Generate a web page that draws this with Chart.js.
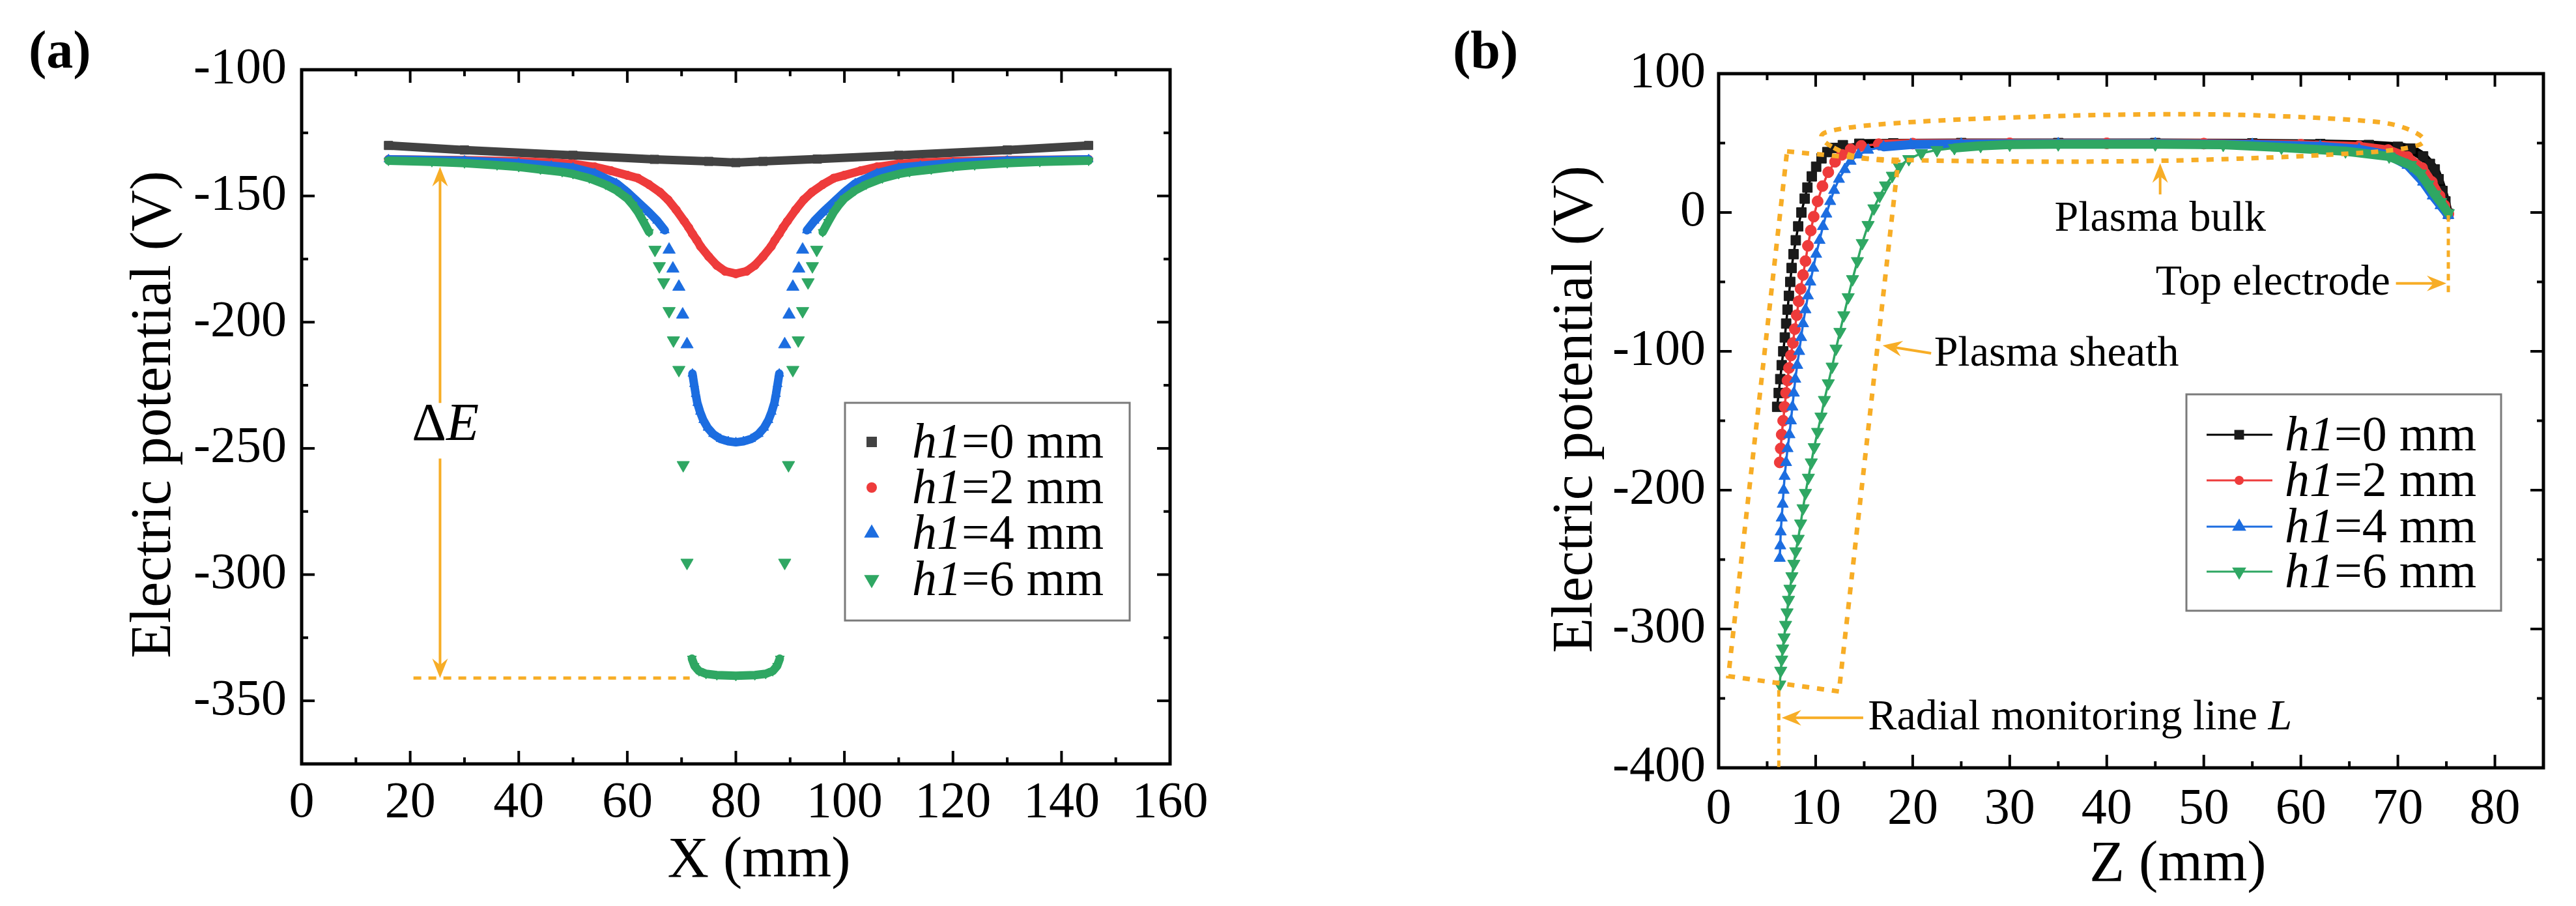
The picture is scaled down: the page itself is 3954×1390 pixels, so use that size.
<!DOCTYPE html>
<html>
<head>
<meta charset="utf-8">
<script src="https://cdn.jsdelivr.net/npm/chart.js@4.4.1/dist/chart.umd.min.js"></script>
<style>
  html, body { margin: 0; padding: 0; background: #fff; }
  #wrap { position: relative; width: 3954px; height: 1390px; }
  canvas { position: absolute; top: 0; }
</style>
</head>
<body>
<div id="wrap">
  <canvas id="chartA" width="1977" height="1390" style="left:0"></canvas>
  <canvas id="chartB" width="1977" height="1390" style="left:1977px"></canvas>
</div>
<script>
// h1 values shared by both panels
const h1Values = [0, 2, 4, 6];

// (a) electric potential along X
const aTicksX = [0, 20, 40, 60, 80, 100, 120, 140, 160];
const aTicksY = [-350, -300, -250, -200, -150, -100];

const aX0 = [16, 30, 50, 65, 75, 80, 85, 95, 110, 130, 145];
const aV0 = [-130, -131.8, -133.9, -135.5, -136.3, -136.8, -136.3, -135.4, -133.9, -131.8, -130];

const aX2 = [16, 30, 40, 46, 50, 54, 57, 60, 62, 64, 66, 67.5, 69, 70.5, 71.3, 72, 72.8, 73.5, 75, 76.5, 78, 80,
  82, 83.5, 85, 86.5, 87.2, 88, 88.7, 89.5, 91, 92.5, 94, 96, 98, 100, 103, 106, 110, 114, 120, 130, 145];
const aV2 = [-135.5, -135.8, -136.3, -136.8, -137.3, -138.5, -140, -141.8, -143, -145.5, -148.5, -151.5, -155.5, -160, -162.5, -165, -167.5, -170, -174, -177.5, -179.8, -180.8,
  -179.8, -177.5, -174, -170, -167.5, -165, -162.5, -160, -155.5, -151.5, -148.5, -145.5, -143, -141.8, -140, -138.5, -137.3, -136.8, -136.3, -135.8, -135.5];

const aX4 = [16, 30, 40, 46, 50, 54, 58, 60, 62, 64, 65.5, 66.9, 67.7, 68.4, 69.5, 70.2, 71, 72, 72.3, 72.6, 72.9, 73.4, 74, 74.8, 75.8, 77.2, 78.6, 80,
  81.4, 82.8, 84.2, 85.2, 86, 86.6, 87.1, 87.4, 87.7, 88, 89, 89.8, 90.5, 91.6, 92.3, 93.1, 94.5, 96, 98, 100, 102, 106, 110, 114, 120, 130, 145];
const aV4 = [-135.5, -136, -137, -138, -138.8, -141, -145, -148.5, -152.5, -156.5, -159.8, -163.6, -171.3, -178.8, -186, -197, -208.8, -220.4, -224.5, -228.5, -232, -235.5, -238.8, -241.8, -244.3, -246.3, -247.2, -247.6,
  -247.2, -246.3, -244.3, -241.8, -238.8, -235.5, -232, -228.5, -224.5, -220.4, -208.8, -197, -186, -178.8, -171.3, -163.6, -159.8, -156.5, -152.5, -148.5, -145, -141, -138.8, -138, -137, -136, -135.5];

const aX6 = [16, 24, 30, 36, 40, 44, 48, 50, 53, 56, 58, 60, 61, 62, 63, 64, 65.1, 65.9, 66.7, 67.7, 68.5, 69.5, 70.3, 71, 71.9, 72.4, 73.2, 74.5, 76.5, 80,
  83.5, 85.5, 86.8, 87.6, 88.1, 89, 89.7, 90.5, 91.5, 92.3, 93.3, 94.1, 94.9, 96, 97, 98, 99, 100, 102, 104, 107, 110, 112, 116, 120, 124, 130, 136, 145];
const aV6 = [-136, -136.5, -137, -137.8, -138.5, -139.5, -140.5, -141.3, -143, -145.5, -147.8, -151, -153.5, -156.5, -160.3, -164.3, -171.3, -177.8, -184.2, -195.6, -207.2, -218.9, -256.6, -295.3, -333.3, -336.2, -338.2, -339.3, -339.8, -340.1,
  -339.8, -339.3, -338.2, -336.2, -333.3, -295.3, -256.6, -218.9, -207.2, -195.6, -184.2, -177.8, -171.3, -164.3, -160.3, -156.5, -153.5, -151, -147.8, -145.5, -143, -141.3, -140.5, -139.5, -138.5, -137.8, -137, -136.5, -136];

// (b) electric potential along Z
const bTicksX = [0, 10, 20, 30, 40, 50, 60, 70, 80];
const bTicksY = [-400, -300, -200, -100, 0, 100];

const bZ0 = [6.03, 6.19, 6.35, 6.5, 6.66, 6.82, 6.96, 7.1, 7.24, 7.38, 7.52, 7.72, 7.95, 8.2, 8.53, 8.87, 9.15, 9.6, 10.05, 10.6,
  11.2, 11.8, 12.8, 14.5, 18, 25, 35, 45, 55, 62, 67, 70, 71.3, 72.6, 73.3, 73.8, 74.2, 74.6, 74.9, 75.2];
const bV0 = [-140, -130, -120, -110, -100, -90, -80, -70, -60, -50, -40, -30, -20, -10, 0, 10, 18, 26, 33, 39,
  43.5, 46.5, 48.5, 49.5, 49.8, 50, 50, 50, 49.8, 49.3, 48.6, 47.3, 46, 40.4, 35, 31, 24, 15.5, 8, -1];

const bZ2 = [6.3, 6.4, 6.5, 6.65, 6.8, 6.95, 7.1, 7.25, 7.45, 7.65, 7.85, 8.05, 8.25, 8.45, 8.7, 8.95, 9.2, 9.5, 9.8, 10.2,
  10.7, 11.3, 12, 12.7, 13.6, 14.7, 16.5, 20, 30, 40, 50, 60, 66, 69, 71, 72.5, 73.5, 74.3, 74.8, 75.2];
const bV2 = [-180, -170, -160, -150, -140, -130, -121, -112, -103, -94, -84, -74, -64, -55, -45, -35, -24, -13, -3, 8,
  19, 29, 36.5, 41.5, 45.5, 48, 49.2, 49.6, 49.8, 49.8, 49.6, 48.8, 47.5, 45, 40, 32, 22, 12, 5, -1];

const bZ4 = [6.3, 6.35, 6.4, 6.5, 6.6, 6.7, 6.8, 6.95, 7.1, 7.3, 7.45, 7.6, 7.75, 7.9, 8.1, 8.3, 8.5, 8.7, 8.95, 9.2,
  9.45, 9.75, 10.05, 10.4, 10.75, 11.1, 11.5, 11.9, 12.4, 13, 13.6, 14.4, 15.4, 17, 19.8, 25, 35, 45, 55, 62,
  66, 69, 71, 72.6, 73.6, 74.4, 75.2];
const bV4 = [-249, -240, -230, -220, -210, -200, -190, -180, -170, -160, -150, -140, -130, -120, -110, -100, -90, -80, -70, -60,
  -50, -40, -30, -20, -10, -1, 8, 16, 24, 31, 37, 41.5, 45, 47.3, 48.9, 49.3, 49.5, 49.5, 49, 47.6,
  45.5, 41.5, 34, 22, 12, 5, -2];

const bZ6 = [6.3, 6.4, 6.5, 6.6, 6.75, 6.9, 7.05, 7.2, 7.35, 7.55, 7.75, 7.95, 8.2, 8.45, 8.7, 8.95, 9.25, 9.55, 9.85, 10.2,
  10.55, 10.9, 11.3, 11.7, 12.1, 12.5, 12.9, 13.35, 13.8, 14.3, 14.8, 15.4, 16, 16.6, 17.2, 17.9, 18.6, 19.6, 20.9, 22.5,
  24.3, 27, 30, 35, 45, 52, 58, 64.6, 69.1, 71.3, 72.3, 73.1, 73.8, 74.4, 75.2];
const bV6 = [-340, -330, -322, -314, -306, -297, -288, -279, -271, -262, -253, -244, -235, -224, -213, -202, -191, -180, -169, -158,
  -147, -135, -123, -111, -98, -86, -74, -61, -48, -35, -22, -9, 3, 12, 19.5, 26.5, 33, 38.5, 42.7, 45,
  46.5, 48, 48.9, 49.2, 49.2, 48.8, 46.8, 44.1, 40.4, 34.2, 28, 20.2, 13, 7.5, -0.5];

const RED = '#EE3B3B';
const BLUE = '#1C6DE0';
const GREEN = '#2FA763';
const ORANGE = '#F7AD26';
const FAMILY = '"Liberation Serif", "Times New Roman", serif';

const pts = (xs, ys) => xs.map((x, i) => ({ x, y: ys[i] }));

function drawRuns(ctx, runs, x, y, size, align = 'left') {
  const fonts = runs.map(r => `${r.i ? 'italic ' : ''}${r.b ? 'bold ' : ''}${size}px ${FAMILY}`);
  let total = 0;
  const widths = runs.map((r, k) => {
    ctx.font = fonts[k];
    const w = ctx.measureText(r.t).width;
    total += w;
    return w;
  });
  let cx = align === 'center' ? x - total / 2 : align === 'right' ? x - total : x;
  ctx.textAlign = 'left';
  ctx.textBaseline = 'middle';
  runs.forEach((r, k) => { ctx.font = fonts[k]; ctx.fillText(r.t, cx, y); cx += widths[k]; });
}

function drawRotated(ctx, text, x, y, size) {
  ctx.save();
  ctx.translate(x, y);
  ctx.rotate(-Math.PI / 2);
  drawRuns(ctx, [{ t: text }], 0, 0, size, 'center');
  ctx.restore();
}

function seg(ctx, [x0, y0], [x1, y1]) {
  ctx.beginPath(); ctx.moveTo(x0, y0); ctx.lineTo(x1, y1); ctx.stroke();
}

function arrow(ctx, x0, y0, x1, y1) {
  const a = Math.atan2(y1 - y0, x1 - x0), c = Math.cos(a), s = Math.sin(a);
  const L = 30, W = 12, N = 20;
  ctx.beginPath(); ctx.moveTo(x0, y0); ctx.lineTo(x1 - c * N, y1 - s * N); ctx.stroke();
  ctx.beginPath();
  ctx.moveTo(x1, y1);
  ctx.lineTo(x1 - c * L - s * W, y1 - s * L + c * W);
  ctx.lineTo(x1 - c * N, y1 - s * N);
  ctx.lineTo(x1 - c * L + s * W, y1 - s * L - c * W);
  ctx.closePath();
  ctx.fill();
}

function smoothClosed(ctx, p) {
  const n = p.length, mid = (a, b) => [(a[0] + b[0]) / 2, (a[1] + b[1]) / 2];
  const m0 = mid(p[n - 1], p[0]);
  ctx.moveTo(m0[0], m0[1]);
  for (let i = 0; i < n; i++) {
    const m = mid(p[i], p[(i + 1) % n]);
    ctx.quadraticCurveTo(p[i][0], p[i][1], m[0], m[1]);
  }
  ctx.closePath();
}

function drawMarker(ctx, ds, x, y, r) {
  ctx.beginPath();
  if (ds.pointStyle === 'rect') {
    const h = r * Math.SQRT1_2;
    ctx.rect(x - h, y - h, 2 * h, 2 * h);
  } else if (ds.pointStyle === 'circle') {
    ctx.arc(x, y, r, 0, Math.PI * 2);
  } else {
    const d = ds.rotation === 180 ? -1 : 1;
    ctx.moveTo(x, y - d * r);
    ctx.lineTo(x + r * 0.866, y + d * r * 0.5);
    ctx.lineTo(x - r * 0.866, y + d * r * 0.5);
    ctx.closePath();
  }
  ctx.fill();
}

function drawLegend(chart, box, rows, markerX, textX, radii, lineSpan) {
  const ctx = chart.ctx;
  ctx.save();
  ctx.strokeStyle = '#7a7a7a';
  ctx.lineWidth = 3;
  ctx.strokeRect(box[0], box[1], box[2] - box[0], box[3] - box[1]);
  chart.data.datasets.forEach((ds, i) => {
    const y = rows[i];
    if (lineSpan) {
      ctx.strokeStyle = ds.borderColor;
      ctx.lineWidth = 3;
      seg(ctx, [lineSpan[0], y], [lineSpan[1], y]);
    }
    ctx.fillStyle = ds.pointBackgroundColor;
    drawMarker(ctx, ds, markerX, y, radii[i]);
    ctx.fillStyle = '#000';
    drawRuns(ctx, [{ t: 'h1', i: true }, { t: `=${h1Values[i]} mm` }], textX, y + 4, 76);
  });
  ctx.restore();
}

// inward ticks on all four sides plus the frame
const frameTicks = {
  id: 'frameTicks',
  afterDraw(chart) {
    const { ctx, chartArea: a, scales: { x, y } } = chart;
    const majors = s => s.ticks.map(t => t.value);
    const minors = s => { const v = majors(s); return v.slice(1).map((t, i) => (t + v[i]) / 2); };
    ctx.save();
    ctx.strokeStyle = '#000';
    ctx.lineWidth = 4;
    [[majors(x), 20], [minors(x), 10]].forEach(([vals, len]) => vals.forEach(v => {
      const p = x.getPixelForValue(v);
      seg(ctx, [p, a.bottom], [p, a.bottom - len]);
      seg(ctx, [p, a.top], [p, a.top + len]);
    }));
    [[majors(y), 20], [minors(y), 10]].forEach(([vals, len]) => vals.forEach(v => {
      const p = y.getPixelForValue(v);
      seg(ctx, [a.left, p], [a.left + len, p]);
      seg(ctx, [a.right, p], [a.right - len, p]);
    }));
    ctx.lineWidth = 5;
    ctx.strokeRect(a.left, a.top, a.right - a.left, a.bottom - a.top);
    ctx.restore();
  }
};

// panel (a): dense node markers read as a band, gaps where nodes spread apart
const GAP_PX = 22;
const gapColor = c => Math.abs(c.p1.y - c.p0.y) > GAP_PX ? 'rgba(0,0,0,0)' : undefined;
const nodeRadius = (band, lone) => c => {
  const d = c.dataset.data, i = c.dataIndex, ys = c.chart.scales.y;
  const near = j => j >= 0 && j < d.length &&
    Math.abs(ys.getPixelForValue(d[j].y) - ys.getPixelForValue(d[i].y)) <= GAP_PX;
  return near(i - 1) || near(i + 1) ? band : lone;
};

function datasetA(label, data, color, style, band, lone, order, rotation = 0) {
  return {
    label, data, order, rotation,
    showLine: true,
    borderColor: color,
    borderWidth: 13,
    borderCapStyle: 'round',
    borderJoinStyle: 'round',
    pointStyle: style,
    pointBackgroundColor: color,
    pointBorderColor: color,
    pointBorderWidth: 1,
    pointRadius: nodeRadius(band, lone),
    segment: { borderColor: gapColor },
  };
}

const tickFont = { family: FAMILY, size: 78 };

const decorA = {
  id: 'decorA',
  afterDraw(chart) {
    const { ctx } = chart;
    const P = (x, v) => [chart.scales.x.getPixelForValue(x), chart.scales.y.getPixelForValue(v)];
    ctx.save();
    ctx.strokeStyle = ORANGE;
    ctx.fillStyle = ORANGE;
    ctx.lineWidth = 5;
    ctx.setLineDash([12, 11]);
    seg(ctx, P(20.6, -341), P(71.5, -341));
    ctx.setLineDash([]);
    ctx.lineWidth = 4;
    arrow(ctx, ...P(25.5, -232), ...P(25.5, -138.5));
    arrow(ctx, ...P(25.5, -254), ...P(25.5, -341));
    ctx.fillStyle = '#000';
    drawRuns(ctx, [{ t: 'Δ' }, { t: 'E', i: true }], ...P(26.5, -241), 82, 'center');
    drawRotated(ctx, 'Electric potential (V)', 238, 636, 88);
    drawRuns(ctx, [{ t: 'X (mm)' }], 1165, 1322, 88, 'center');
    drawRuns(ctx, [{ t: '(a)', b: true }], 44, 83, 82);
    ctx.restore();
    drawLegend(chart, [1297, 618, 1734, 952], [678, 748, 818, 889], 1338, 1400, [11.3, 8, 13.5, 13.5]);
  }
};

new Chart(document.getElementById('chartA'), {
  type: 'scatter',
  data: {
    datasets: [
      datasetA('h1=0 mm', pts(aX0, aV0), '#424242', 'rect', 9.2, 9.2, 3),
      datasetA('h1=2 mm', pts(aX2, aV2), RED, 'circle', 6.5, 8, 2),
      datasetA('h1=4 mm', pts(aX4, aV4), BLUE, 'triangle', 8, 11, 1),
      datasetA('h1=6 mm', pts(aX6, aV6), GREEN, 'triangle', 8, 11, 0, 180),
    ],
  },
  options: {
    responsive: false,
    devicePixelRatio: 1,
    animation: false,
    events: [],
    layout: { padding: { left: 0, top: 107, right: 181, bottom: 0 } },
    plugins: { legend: { display: false }, tooltip: { enabled: false } },
    scales: {
      x: {
        type: 'linear', min: 0, max: 160,
        afterBuildTicks: s => { s.ticks = aTicksX.map(v => ({ value: v })); },
        afterFit: s => { s.height = 218; },
        grid: { display: false, drawTicks: false },
        border: { display: false },
        ticks: { font: tickFont, color: '#000', padding: 14, maxRotation: 0, autoSkip: false, callback: v => String(v) },
      },
      y: {
        type: 'linear', min: -375, max: -100,
        afterBuildTicks: s => { s.ticks = aTicksY.map(v => ({ value: v })); },
        afterFit: s => { s.width = 463; },
        grid: { display: false, drawTicks: false },
        border: { display: false },
        ticks: { font: tickFont, color: '#000', padding: 23, autoSkip: false, callback: v => String(v) },
      },
    },
  },
  plugins: [frameTicks, decorA],
});

// panel (b): thin connecting line, dense plateau nodes drawn as a band
const BAND_PX = 30;
const BAND_FROM_Z = 66;
const bandWidth = c => {
  const d = c.chart.data.datasets[c.datasetIndex].data;
  const long = Math.hypot(c.p1.x - c.p0.x, c.p1.y - c.p0.y) > BAND_PX;
  return long || d[c.p0DataIndex].x >= BAND_FROM_Z ? 14 : 3.5;
};

function datasetB(label, data, line, fill, style, radius, order, rotation = 0) {
  return {
    label, data, order, rotation,
    showLine: true,
    borderColor: line,
    borderWidth: 3.5,
    borderCapStyle: 'round',
    borderJoinStyle: 'round',
    pointStyle: style,
    pointBackgroundColor: fill,
    pointBorderColor: fill,
    pointBorderWidth: 1,
    pointRadius: radius,
    segment: { borderWidth: bandWidth },
  };
}

const decorB = {
  id: 'decorB',
  afterDraw(chart) {
    const { ctx } = chart;
    const P = (z, v) => [chart.scales.x.getPixelForValue(z), chart.scales.y.getPixelForValue(v)];
    ctx.save();
    ctx.strokeStyle = ORANGE;
    ctx.fillStyle = ORANGE;
    ctx.lineWidth = 7;
    ctx.lineJoin = 'round';
    ctx.setLineDash([11, 12]);
    const bulk = [[9.8, 55], [12.5, 61], [20, 65.5], [30, 68.5], [40, 70.5], [50, 71], [58, 69.5], [65, 67], [70, 64],
      [73.5, 51.5], [70.5, 45], [63, 41.5], [55, 39], [45, 37], [35, 36.5], [25, 37], [17, 38], [13.5, 40]].map(p => P(...p));
    ctx.beginPath(); smoothClosed(ctx, bulk); ctx.stroke();
    const sheath = [[7.05, 44], [18.5, 36.5], [12.4, -345], [1.0, -334]].map(p => P(...p));
    ctx.lineJoin = 'miter';
    ctx.beginPath();
    sheath.forEach(([x, y], i) => (i ? ctx.lineTo(x, y) : ctx.moveTo(x, y)));
    ctx.closePath();
    ctx.stroke();
    ctx.lineWidth = 5;
    ctx.setLineDash([10, 8]);
    seg(ctx, P(75.2, -2), P(75.2, -60));
    seg(ctx, P(6.2, -344), P(6.2, -400));
    ctx.setLineDash([]);
    ctx.lineWidth = 4;
    arrow(ctx, ...P(45.5, 13), ...P(45.5, 35.5));
    arrow(ctx, ...P(69.8, -51), ...P(75, -51));
    arrow(ctx, ...P(21.9, -101.4), ...P(16.9, -95.8));
    arrow(ctx, ...P(14.9, -364), ...P(6.5, -364));
    ctx.fillStyle = '#000';
    drawRuns(ctx, [{ t: 'Plasma bulk' }], ...P(45.5, -5), 66, 'center');
    drawRuns(ctx, [{ t: 'Top electrode' }], ...P(69.2, -51), 66, 'right');
    drawRuns(ctx, [{ t: 'Plasma sheath' }], ...P(22.2, -102), 66, 'left');
    drawRuns(ctx, [{ t: 'Radial monitoring line ' }, { t: 'L', i: true }], ...P(15.4, -364), 66, 'left');
    drawRotated(ctx, 'Electric potential (V)', 443, 628, 88);
    drawRuns(ctx, [{ t: 'Z (mm)' }], 1366, 1328, 88, 'center');
    drawRuns(ctx, [{ t: '(b)', b: true }], 253, 83, 82);
    ctx.restore();
    drawLegend(chart, [1379, 605, 1862, 937], [667, 737, 808, 877], 1460, 1530, [10.5, 7, 12.5, 12.5], [1410, 1511]);
  }
};

new Chart(document.getElementById('chartB'), {
  type: 'scatter',
  data: {
    datasets: [
      datasetB('h1=0 mm', pts(bZ0, bV0), '#000000', '#1a1a1a', 'rect', 10.5, 3),
      datasetB('h1=2 mm', pts(bZ2, bV2), RED, RED, 'circle', 8.5, 2),
      datasetB('h1=4 mm', pts(bZ4, bV4), BLUE, BLUE, 'triangle', 10, 1),
      datasetB('h1=6 mm', pts(bZ6, bV6), GREEN, GREEN, 'triangle', 11, 0, 180),
    ],
  },
  options: {
    responsive: false,
    devicePixelRatio: 1,
    animation: false,
    events: [],
    layout: { padding: { left: 0, top: 113, right: 50, bottom: 0 } },
    plugins: { legend: { display: false }, tooltip: { enabled: false } },
    scales: {
      x: {
        type: 'linear', min: 0, max: 85,
        afterBuildTicks: s => { s.ticks = bTicksX.map(v => ({ value: v })); },
        afterFit: s => { s.height = 212; },
        grid: { display: false, drawTicks: false },
        border: { display: false },
        ticks: { font: tickFont, color: '#000', padding: 18, maxRotation: 0, autoSkip: false, callback: v => String(v) },
      },
      y: {
        type: 'linear', min: -400, max: 100,
        afterBuildTicks: s => { s.ticks = bTicksY.map(v => ({ value: v })); },
        afterFit: s => { s.width = 661; },
        grid: { display: false, drawTicks: false },
        border: { display: false },
        ticks: { font: tickFont, color: '#000', padding: 20, autoSkip: false, callback: v => String(v) },
      },
    },
  },
  plugins: [frameTicks, decorB],
});
</script>
</body>
</html>
